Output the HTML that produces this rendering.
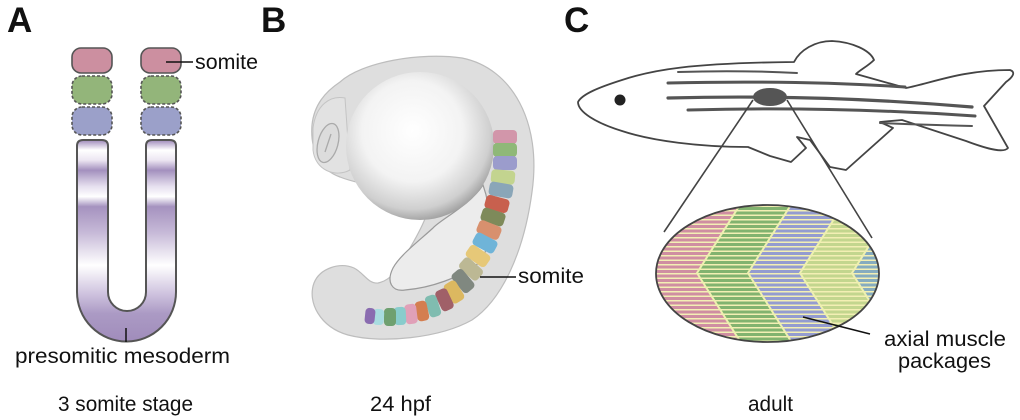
<!DOCTYPE html>
<html><head><meta charset="utf-8"><style>html,body{margin:0;padding:0;background:#fff}svg{display:block}</style></head><body>
<svg width="1020" height="420" viewBox="0 0 1020 420" xmlns="http://www.w3.org/2000/svg" font-family="Liberation Sans, sans-serif">
<defs>
<linearGradient id="psm" gradientUnits="userSpaceOnUse" x1="0" y1="140" x2="0" y2="342">
<stop offset="0" stop-color="#9e89ba"/><stop offset="0.05" stop-color="#fff"/><stop offset="0.1" stop-color="#ece6f2"/>
<stop offset="0.15" stop-color="#a390be"/><stop offset="0.23" stop-color="#e6e0ef"/><stop offset="0.28" stop-color="#fff"/>
<stop offset="0.33" stop-color="#a592bf"/><stop offset="0.46" stop-color="#c7bad8"/><stop offset="0.62" stop-color="#fff"/>
<stop offset="0.76" stop-color="#cfc3df"/><stop offset="0.86" stop-color="#ab9ac4"/><stop offset="1" stop-color="#a08cbb"/>
</linearGradient>
<radialGradient id="yolk" cx="0.45" cy="0.4" r="0.62">
<stop offset="0" stop-color="#fff"/><stop offset="0.55" stop-color="#f3f3f3"/><stop offset="0.85" stop-color="#cfcfcf"/><stop offset="1" stop-color="#9c9c9c"/>
</radialGradient>
<pattern id="pPink" width="10" height="4.5" patternUnits="userSpaceOnUse"><rect width="10" height="4.5" fill="#cf8ea2"/><rect y="3" width="10" height="1.5" fill="#f3efb4"/></pattern>
<pattern id="pGreen" width="10" height="4.5" patternUnits="userSpaceOnUse"><rect width="10" height="4.5" fill="#82b36f"/><rect y="3" width="10" height="1.5" fill="#f3efb4"/></pattern>
<pattern id="pBlue" width="10" height="4.5" patternUnits="userSpaceOnUse"><rect width="10" height="4.5" fill="#949cd0"/><rect y="3" width="10" height="1.5" fill="#f3efb4"/></pattern>
<pattern id="pLG" width="10" height="4.5" patternUnits="userSpaceOnUse"><rect width="10" height="4.5" fill="#c3d68e"/><rect y="3" width="10" height="1.5" fill="#f3efb4"/></pattern>
<pattern id="pBG" width="10" height="4.5" patternUnits="userSpaceOnUse"><rect width="10" height="4.5" fill="#86acbf"/><rect y="3" width="10" height="1.5" fill="#f3efb4"/></pattern>
<clipPath id="ell"><ellipse cx="767.5" cy="273.5" rx="111.5" ry="68.5"/></clipPath>
</defs>

<text x="7" y="32" font-size="35" font-weight="bold" fill="#111">A</text>
<text x="261" y="32" font-size="35" font-weight="bold" fill="#111">B</text>
<text x="564" y="32" font-size="35" font-weight="bold" fill="#111">C</text>

<g stroke="#555" stroke-width="1.6">
<rect x="72" y="48" width="40" height="25" rx="9" fill="#cc8fa0"/>
<rect x="141" y="48" width="40" height="25" rx="9" fill="#cc8fa0"/>
<rect x="72" y="76" width="40" height="28" rx="10" fill="#93b57a" stroke-dasharray="3,2"/>
<rect x="141" y="76" width="40" height="28" rx="10" fill="#93b57a" stroke-dasharray="3,2"/>
<rect x="72" y="107" width="40" height="28" rx="10" fill="#9ba0c9" stroke-dasharray="3,2"/>
<rect x="141" y="107" width="40" height="28" rx="10" fill="#9ba0c9" stroke-dasharray="3,2"/>
<path d="M77,146 Q77,140 83,140 L102,140 Q108,140 108,146 L108,292 A19,19 0 0 0 146,292 L146,146 Q146,140 152,140 L170,140 Q176,140 176,146 L176,292 A49.5,49.5 0 0 1 77,292 Z" fill="url(#psm)" stroke-width="2"/>
</g>
<line x1="166" y1="62" x2="193" y2="62" stroke="#111" stroke-width="1.5"/>
<text x="195" y="69" font-size="21" fill="#111" textLength="63" lengthAdjust="spacingAndGlyphs">somite</text>
<line x1="126" y1="328" x2="126" y2="342" stroke="#111" stroke-width="1.5"/>
<text x="15" y="363" font-size="21" fill="#111" textLength="215" lengthAdjust="spacingAndGlyphs">presomitic mesoderm</text>
<text x="58" y="411" font-size="21" fill="#111" textLength="135" lengthAdjust="spacingAndGlyphs">3 somite stage</text>

<path d="M340,82 C362,62 420,52 462,58 C512,68 542,122 532,192 C524,252 502,300 472,320 C440,338 382,344 348,335 C320,327 307,302 314,283 C320,268 340,262 354,268 C364,273 368,284 378,283 C392,280 398,268 404,258 C420,232 430,212 430,200 C400,190 360,185 340,177 C320,170 310,150 312,125 C314,105 325,92 340,82 Z" fill="#dedede" stroke="#bdbdbd" stroke-width="1.2"/>
<path d="M313,128 C316,105 330,95 345,98 L350,170 C335,178 315,170 313,150 Z" fill="#e2e2e2" stroke="#c4c4c4" stroke-width="1"/>
<path d="M483,185 C470,205 440,220 433,228 C420,240 400,255 393,268 C386,282 392,292 405,290 C430,288 460,278 480,262 C492,245 492,210 483,185 Z" fill="#ececec" stroke="#9a9a9a" stroke-width="1.2"/>
<ellipse cx="328" cy="143" rx="10" ry="20" transform="rotate(15 328 143)" fill="#dcdcdc" stroke="#aaa" stroke-width="1.3"/>
<line x1="325" y1="152" x2="331" y2="134" stroke="#aaa" stroke-width="1.3"/>
<circle cx="420" cy="146" r="74" fill="url(#yolk)"/>
<g>
<rect x="-12" y="-7" width="24" height="14" rx="4" fill="#d296aa" transform="translate(505,137)"/>
<rect x="-12" y="-7" width="24" height="14" rx="4" fill="#8fb878" transform="translate(505,150)"/>
<rect x="-12" y="-7" width="24" height="14" rx="4" fill="#9b9ccc" transform="translate(505,163)"/>
<rect x="-12" y="-7" width="24" height="14" rx="4" fill="#c3d48f" transform="translate(503,177) rotate(5)"/>
<rect x="-12" y="-7" width="24" height="14" rx="4" fill="#8aa6b8" transform="translate(501,190) rotate(10)"/>
<rect x="-12" y="-7" width="24" height="14" rx="4" fill="#c8604e" transform="translate(497,204) rotate(15)"/>
<rect x="-12" y="-7" width="24" height="14" rx="4" fill="#7e8a5a" transform="translate(493,217) rotate(18)"/>
<rect x="-12" y="-7" width="24" height="14" rx="4" fill="#d8906e" transform="translate(489,230) rotate(22)"/>
<rect x="-12" y="-7" width="24" height="14" rx="4" fill="#6fb4d8" transform="translate(485,243) rotate(28)"/>
<rect x="-12" y="-7" width="24" height="14" rx="4" fill="#e6c878" transform="translate(478,256) rotate(35)"/>
<rect x="-12" y="-7" width="24" height="14" rx="4" fill="#bcb894" transform="translate(471,269) rotate(42)"/>
<rect x="-12" y="-7" width="24" height="14" rx="4" fill="#808880" transform="translate(463,281) rotate(50)"/>
<rect x="-11" y="-7" width="22" height="14" rx="4" fill="#dcb860" transform="translate(454,292) rotate(58)"/>
<rect x="-11" y="-7" width="22" height="13" rx="4" fill="#a06068" transform="translate(444,300) rotate(65)"/>
<rect x="-11" y="-6" width="22" height="12" rx="4" fill="#80bcb0" transform="translate(433,306) rotate(72)"/>
<rect x="-10" y="-6" width="20" height="12" rx="4" fill="#d47e50" transform="translate(422,311) rotate(78)"/>
<rect x="-10" y="-6" width="20" height="12" rx="4" fill="#e0a0b8" transform="translate(411,314) rotate(83)"/>
<rect x="-9" y="-6" width="18" height="12" rx="4" fill="#88cccc" transform="translate(400,316) rotate(87)"/>
<rect x="-9" y="-6" width="18" height="12" rx="4" fill="#6fa070" transform="translate(390,317) rotate(90)"/>
<rect x="-8" y="-5" width="16" height="11" rx="4" fill="#a8dce0" transform="translate(379,317) rotate(93)"/>
<rect x="-8" y="-5" width="16" height="10" rx="4" fill="#8a6cb0" transform="translate(370,316) rotate(96)"/>
</g>
<line x1="480" y1="277" x2="516" y2="277" stroke="#111" stroke-width="1.5"/>
<text x="518" y="283" font-size="21" fill="#111" textLength="66" lengthAdjust="spacingAndGlyphs">somite</text>
<text x="370" y="411" font-size="21" fill="#111" textLength="61" lengthAdjust="spacingAndGlyphs">24 hpf</text>

<path d="M578,102 C582,94 600,87 622,80 C652,70 690,63 794,62 C800,50 815,41 832,41 C852,42 870,50 874,60 C868,66 860,70 856,74 L906,88 C932,83 962,70 1010,70 C1016,72 1013,77 1006,82 L984,106 L1008,148 C1004,153 990,150 966,141 L902,120 L880,122 L893,128 L846,170 L830,167 L810,140 L797,137 L806,148 L791,162 L770,156 L748,147 C700,147 652,141 622,131 C596,123 578,112 578,102 Z" fill="#fff" stroke="#444" stroke-width="1.8" stroke-linejoin="round"/>
<g stroke="#555" stroke-linecap="round" fill="none">
<path d="M678,72 Q740,70 797,73" stroke-width="2"/>
<path d="M668,83 Q800,80 905,87" stroke-width="3"/>
<path d="M668,98 Q820,94 972,107" stroke-width="3.2"/>
<path d="M688,110 Q830,106 975,116" stroke-width="3"/>
<path d="M880,123 Q930,125 972,126" stroke-width="2"/>
</g>
<circle cx="620" cy="100" r="5.5" fill="#222"/>
<ellipse cx="770" cy="97" rx="17" ry="9" fill="#555"/>
<line x1="753" y1="100" x2="664" y2="232" stroke="#444" stroke-width="1.6"/>
<line x1="787" y1="100" x2="872" y2="238" stroke="#444" stroke-width="1.6"/>
<g clip-path="url(#ell)">
<polygon points="650,200 743,200 697,273 743,346 650,346" fill="url(#pPink)"/>
<polygon points="743,200 794,200 748,273 794,346 743,346 697,273" fill="url(#pGreen)"/>
<polygon points="794,200 846,200 800,273 846,346 794,346 748,273" fill="url(#pBlue)"/>
<polygon points="846,200 898,200 852,273 898,346 846,346 800,273" fill="url(#pLG)"/>
<polygon points="898,200 900,200 900,346 898,346 852,273" fill="url(#pBG)"/>
<g stroke="#eef0b0" stroke-width="2" fill="none">
<polyline points="743,200 697,273 743,346"/>
<polyline points="794,200 748,273 794,346"/>
<polyline points="846,200 800,273 846,346"/>
<polyline points="898,200 852,273 898,346"/>
</g>
</g>
<ellipse cx="767.5" cy="273.5" rx="111.5" ry="68.5" fill="none" stroke="#444" stroke-width="1.8"/>
<line x1="803" y1="317" x2="870" y2="334" stroke="#111" stroke-width="1.5"/>
<text x="884" y="346" font-size="21" fill="#111" textLength="122" lengthAdjust="spacingAndGlyphs">axial muscle</text>
<text x="898" y="368" font-size="21" fill="#111" textLength="93" lengthAdjust="spacingAndGlyphs">packages</text>
<text x="748" y="411" font-size="21" fill="#111" textLength="45" lengthAdjust="spacingAndGlyphs">adult</text>
</svg>
</body></html>
